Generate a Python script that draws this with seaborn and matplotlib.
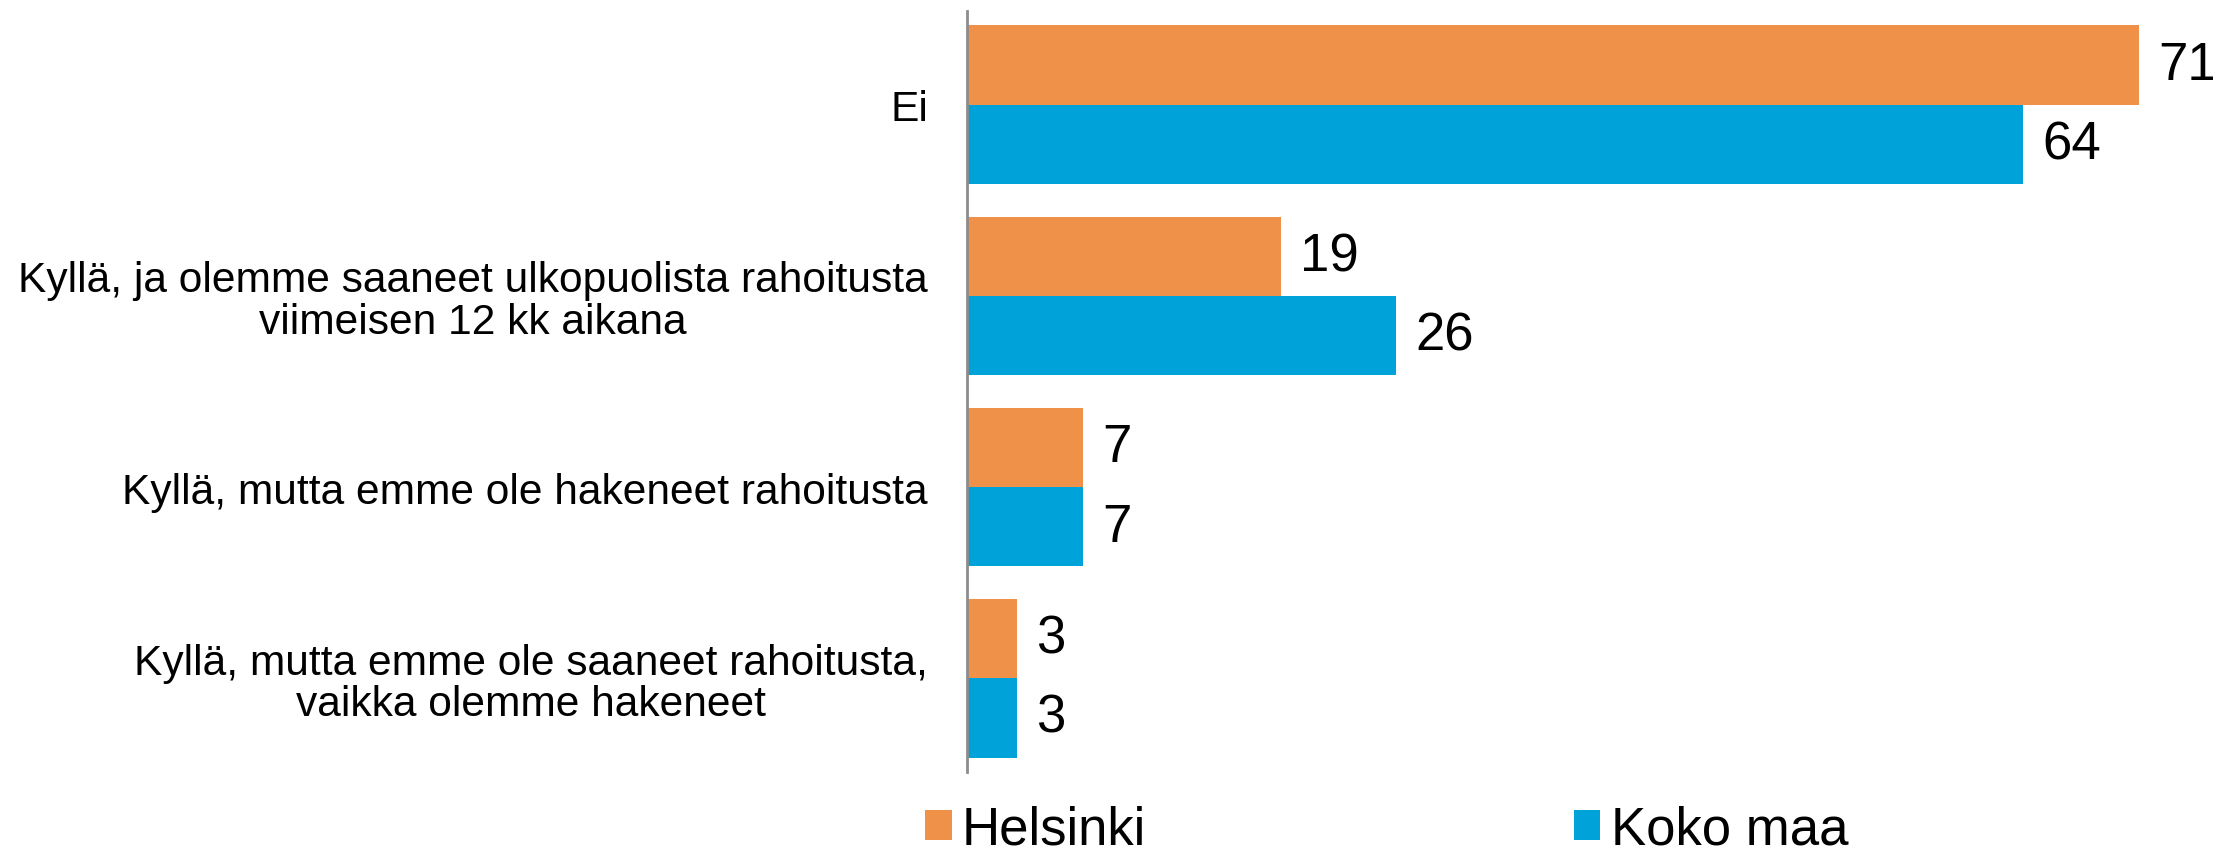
import matplotlib
matplotlib.use("Agg")
import matplotlib.pyplot as plt
import seaborn as sns
import pandas as pd
from matplotlib.patches import Patch

categories = [
    "Ei",
    "Kyllä, ja olemme saaneet ulkopuolista rahoitusta\nviimeisen 12 kk aikana",
    "Kyllä, mutta emme ole hakeneet rahoitusta",
    "Kyllä, mutta emme ole saaneet rahoitusta,\nvaikka olemme hakeneet",
]
series_names = ["Helsinki", "Koko maa"]
helsinki = [71, 19, 7, 3]
koko_maa = [64, 26, 7, 3]
colors = ["#F0914A", "#00A3D9"]

df = pd.DataFrame({
    "category": categories * 2,
    "series": [series_names[0]] * 4 + [series_names[1]] * 4,
    "value": helsinki + koko_maa,
})

sns.set_theme(style="white")
plt.rcParams["font.family"] = ["Liberation Sans", "DejaVu Sans"]
plt.rcParams["text.color"] = "black"

fig = plt.figure(figsize=(22.13, 8.53), dpi=100)
ax = fig.add_axes([967 / 2213, 1 - 773 / 853, 1 - 967 / 2213, (773 - 12) / 853])

sns.barplot(data=df, y="category", x="value", hue="series", orient="h",
            palette=colors, width=0.83, ax=ax, legend=False, saturation=1,
            linewidth=0)

for cont in ax.containers:
    ax.bar_label(cont, fmt="%d", padding=14, fontsize=38, color="black")

ax.set_xlim(0, 75.5)
ax.set_ylim(3.49, -0.49)
ax.set_xlabel("")
ax.set_ylabel("")
ax.set_xticks([])
for s in ["top", "right", "bottom"]:
    ax.spines[s].set_visible(False)
ax.spines["left"].set_color("#8C8C8C")
ax.spines["left"].set_linewidth(2)
ax.tick_params(axis="y", length=0, pad=28, labelsize=30.6, labelcolor="black")
for lab in ax.get_yticklabels():
    lab.set_multialignment("center")
    lab.set_linespacing(1.05)

handles = [Patch(facecolor=c, edgecolor="none") for c in colors]
fig.legend(handles, series_names, loc="lower left",
           bbox_to_anchor=(904 / 2213, -0.028), ncol=2, frameon=False,
           fontsize=38, handlelength=0.5, handleheight=0.5, handletextpad=0.2,
           columnspacing=8.1, borderaxespad=0, labelcolor="black")

fig.savefig("out.png", dpi=100)
